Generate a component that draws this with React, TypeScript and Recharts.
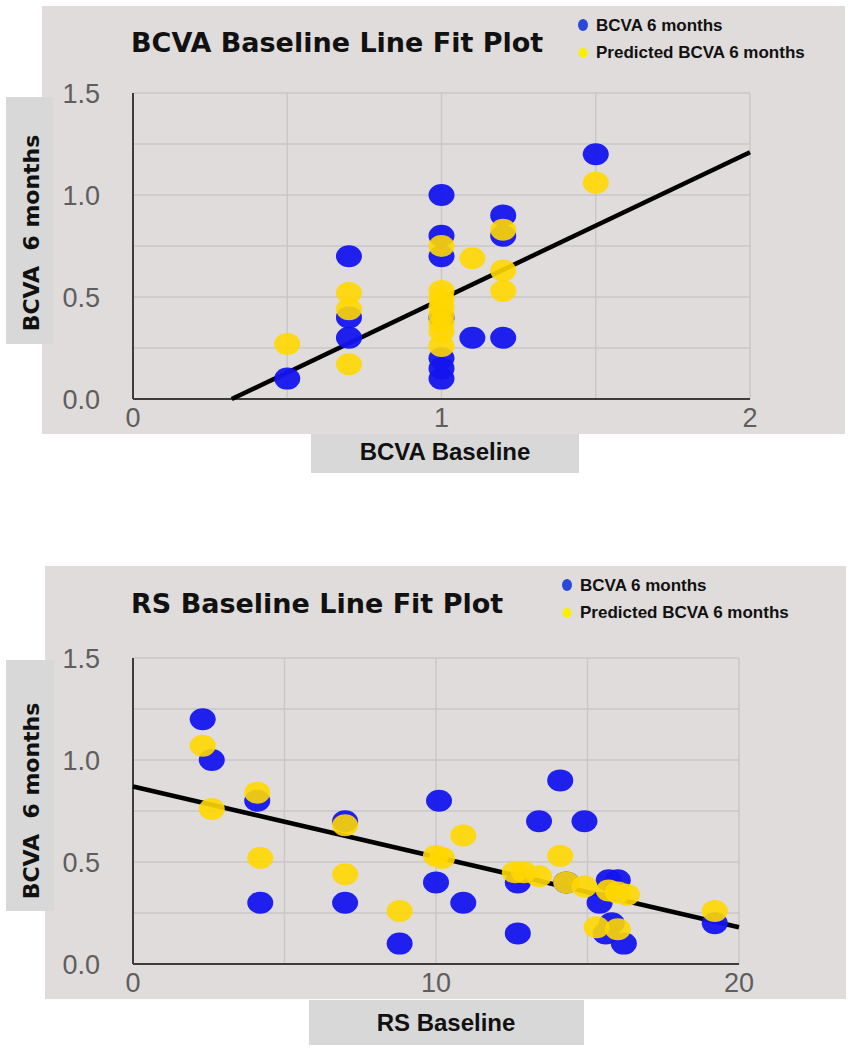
import React from "react";
import { ScatterChart, Scatter, XAxis, YAxis, CartesianGrid } from "recharts";

interface Pt {
  x: number;
  y: number;
}

// ---- data ----
const Y_TICKS = [0, 0.25, 0.5, 0.75, 1, 1.25, 1.5];
const BCVA_X_TICKS = [0, 0.5, 1, 1.5, 2];
const RS_X_TICKS = [0, 5, 10, 15, 20];

const bcvaActual: Pt[] = [
  { x: 0.5, y: 0.1 },
  { x: 0.7, y: 0.7 },
  { x: 0.7, y: 0.4 },
  { x: 0.7, y: 0.3 },
  { x: 1.0, y: 1.0 },
  { x: 1.0, y: 0.8 },
  { x: 1.0, y: 0.7 },
  { x: 1.0, y: 0.4 },
  { x: 1.0, y: 0.2 },
  { x: 1.0, y: 0.15 },
  { x: 1.0, y: 0.1 },
  { x: 1.1, y: 0.3 },
  { x: 1.2, y: 0.9 },
  { x: 1.2, y: 0.8 },
  { x: 1.2, y: 0.3 },
  { x: 1.5, y: 1.2 },
];

const bcvaPredicted: Pt[] = [
  { x: 0.5, y: 0.27 },
  { x: 0.7, y: 0.52 },
  { x: 0.7, y: 0.44 },
  { x: 0.7, y: 0.17 },
  { x: 1.0, y: 0.75 },
  { x: 1.0, y: 0.53 },
  { x: 1.0, y: 0.49 },
  { x: 1.0, y: 0.45 },
  { x: 1.0, y: 0.41 },
  { x: 1.0, y: 0.37 },
  { x: 1.0, y: 0.33 },
  { x: 1.0, y: 0.26 },
  { x: 1.1, y: 0.69 },
  { x: 1.2, y: 0.83 },
  { x: 1.2, y: 0.63 },
  { x: 1.2, y: 0.53 },
  { x: 1.5, y: 1.06 },
];

const bcvaFit: Pt[] = [
  { x: 0.32, y: 0 },
  { x: 2, y: 1.21 },
];

const rsActual: Pt[] = [
  { x: 2.3, y: 1.2 },
  { x: 2.6, y: 1.0 },
  { x: 4.1, y: 0.8 },
  { x: 4.2, y: 0.3 },
  { x: 7.0, y: 0.7 },
  { x: 7.0, y: 0.3 },
  { x: 8.8, y: 0.1 },
  { x: 10.1, y: 0.8 },
  { x: 10.0, y: 0.4 },
  { x: 10.9, y: 0.3 },
  { x: 12.7, y: 0.4 },
  { x: 12.7, y: 0.15 },
  { x: 13.4, y: 0.7 },
  { x: 14.1, y: 0.9 },
  { x: 14.9, y: 0.7 },
  { x: 14.3, y: 0.4 },
  { x: 15.4, y: 0.3 },
  { x: 15.7, y: 0.41 },
  { x: 16.0, y: 0.41 },
  { x: 15.8, y: 0.2 },
  { x: 15.6, y: 0.15 },
  { x: 16.2, y: 0.1 },
  { x: 19.2, y: 0.2 },
];

const rsPredicted: Pt[] = [
  { x: 2.3, y: 1.07 },
  { x: 2.6, y: 0.76 },
  { x: 4.1, y: 0.84 },
  { x: 4.2, y: 0.52 },
  { x: 7.0, y: 0.68 },
  { x: 7.0, y: 0.44 },
  { x: 8.8, y: 0.26 },
  { x: 10.0, y: 0.53 },
  { x: 10.2, y: 0.52 },
  { x: 10.9, y: 0.63 },
  { x: 12.6, y: 0.45 },
  { x: 12.9, y: 0.45 },
  { x: 13.4, y: 0.43 },
  { x: 14.1, y: 0.53 },
  { x: 14.3, y: 0.4 },
  { x: 14.9, y: 0.38 },
  { x: 15.7, y: 0.36 },
  { x: 16.0, y: 0.35 },
  { x: 16.3, y: 0.34 },
  { x: 15.3, y: 0.18 },
  { x: 16.0, y: 0.17 },
  { x: 19.2, y: 0.26 },
];

const rsFit: Pt[] = [
  { x: 0, y: 0.87 },
  { x: 20, y: 0.18 },
];

// ---- styling ----
const PANEL = "#e0dcdb";
const BOX = "#d8d8d8";
const BLUE = "#1414ef";
const YELLOW = "#ffd700";
const GRID = "#c9c7c7";
const AXIS = "#3c3c3c";
const TICK_FONT = "'Liberation Sans', Arial, sans-serif";
const BOLD_FONT = "'Liberation Sans', Arial, sans-serif";
const WIDE_BOLD = "'DejaVu Sans', Verdana, sans-serif";

const yTickLabel = (v: number) => (Number.isInteger(v * 2) ? v.toFixed(1) : "");

const YTick = ({ x, y, payload }: any) => {
  const label = yTickLabel(payload.value);
  if (!label) return <g />;
  return (
    <text x={x} y={y} dy={10} textAnchor="end" fontFamily={TICK_FONT} fontSize={27} fill="#5e5e5e">
      {label}
    </text>
  );
};

const makeXTick = (labelFor: (v: number) => string) => ({ x, y, payload }: any) => {
  const label = labelFor(payload.value);
  if (!label) return <g />;
  return (
    <text x={x} y={y} dy={20} textAnchor="middle" fontFamily={TICK_FONT} fontSize={27} fill="#5e5e5e">
      {label}
    </text>
  );
};

const dot = (fill: string, opacity: number) => (props: any) => (
  <ellipse cx={props.cx} cy={props.cy} rx={13} ry={11} fill={fill} fillOpacity={opacity} />
);

interface Layout {
  height: number;
  margin: { top: number; right: number; bottom: number; left: number };
  panel: [number, number, number, number];
  yBox: [number, number, number, number];
  xBox: [number, number, number, number];
  titleX: number;
  titleY: number;
  legendX: number;
  yLabelAt: [number, number];
  xLabelAt: [number, number];
}

interface PlotProps {
  offset: number;
  layout: Layout;
  title: string;
  xLabel: string;
  xTicks: number[];
  xDomain: [number, number];
  xTickLabel: (v: number) => string;
  actual: Pt[];
  predicted: Pt[];
  fit: Pt[];
}

function LineFitPlot({ offset, layout, title, xLabel, xTicks, xDomain, xTickLabel, actual, predicted, fit }: PlotProps) {
  const L = layout;
  const box = (r: [number, number, number, number], bg: string): React.CSSProperties => ({
    position: "absolute",
    left: r[0],
    top: r[1],
    width: r[2],
    height: r[3],
    background: bg,
  });
  return (
    <div style={{ position: "absolute", left: 0, top: offset, width: 851, height: L.height }}>
      <div style={box(L.panel, PANEL)} />
      <div style={box(L.yBox, BOX)} />
      <div style={box(L.xBox, BOX)} />
      <div style={{ position: "absolute", left: 0, top: 0 }}>
        <ScatterChart width={851} height={L.height} margin={L.margin}>
          <CartesianGrid stroke={GRID} strokeWidth={1.5} />
          <XAxis
            type="number"
            dataKey="x"
            domain={xDomain}
            ticks={xTicks}
            interval={0}
            height={40}
            tickSize={0}
            tickMargin={8}
            tickLine={false}
            axisLine={{ stroke: AXIS, strokeWidth: 2 }}
            tick={makeXTick(xTickLabel)}
          />
          <YAxis
            type="number"
            dataKey="y"
            domain={[0, 1.5]}
            ticks={Y_TICKS}
            interval={0}
            width={60}
            tickSize={0}
            tickMargin={33}
            tickLine={false}
            axisLine={{ stroke: AXIS, strokeWidth: 2 }}
            tick={<YTick />}
          />
          <Scatter
            data={fit}
            line={{ stroke: "#000", strokeWidth: 4.5 }}
            shape={() => <g />}
            isAnimationActive={false}
          />
          <Scatter data={actual} shape={dot(BLUE, 0.95)} isAnimationActive={false} />
          <Scatter data={predicted} shape={dot(YELLOW, 0.9)} isAnimationActive={false} />
        </ScatterChart>
      </div>
      <svg
        width={851}
        height={L.height}
        style={{ position: "absolute", left: 0, top: 0, pointerEvents: "none" }}
      >
        <text x={L.titleX} y={L.titleY} fontFamily={WIDE_BOLD} fontWeight="bold" fontSize={27} fill="#111">
          {title}
        </text>
        <ellipse cx={L.legendX} cy={25} rx={5} ry={6} fill="#2a48d8" />
        <text x={L.legendX + 13} y={31} fontFamily={BOLD_FONT} fontWeight="bold" fontSize={17} fill="#111">
          BCVA 6 months
        </text>
        <ellipse cx={L.legendX} cy={53} rx={4.5} ry={5} fill="#f8f000" />
        <text x={L.legendX + 13} y={58} fontFamily={BOLD_FONT} fontWeight="bold" fontSize={17} fill="#111">
          Predicted BCVA 6 months
        </text>
        <text
          x={L.yLabelAt[0]}
          y={L.yLabelAt[1]}
          transform={`rotate(-90 ${L.yLabelAt[0]} ${L.yLabelAt[1]})`}
          textAnchor="middle"
          dominantBaseline="central"
          fontFamily={WIDE_BOLD}
          fontWeight="bold"
          fontSize={22}
          fill="#111"
          style={{ whiteSpace: "pre" }}
        >
          {"BCVA  6 months"}
        </text>
        <text
          x={L.xLabelAt[0]}
          y={L.xLabelAt[1]}
          textAnchor="middle"
          dominantBaseline="central"
          fontFamily={BOLD_FONT}
          fontWeight="bold"
          fontSize={24}
          fill="#111"
        >
          {xLabel}
        </text>
      </svg>
    </div>
  );
}

const topLayout: Layout = {
  height: 480,
  margin: { top: 93, right: 101, bottom: 41, left: 73 },
  panel: [42, 6, 803, 428],
  yBox: [6, 97, 47, 247],
  xBox: [311, 434, 268, 39],
  titleX: 131,
  titleY: 52,
  legendX: 583,
  yLabelAt: [31, 233],
  xLabelAt: [445, 451],
};

const bottomLayout: Layout = {
  height: 492,
  margin: { top: 98, right: 112, bottom: 48, left: 73 },
  panel: [45, 6, 801, 433],
  yBox: [6, 100, 48, 251],
  xBox: [309, 440, 275, 45],
  titleX: 131,
  titleY: 53,
  legendX: 567,
  yLabelAt: [31, 241],
  xLabelAt: [446, 462],
};

export default function App() {
  return (
    <div style={{ position: "relative", width: 851, height: 1052, background: "#fff", overflow: "hidden" }}>
      <style>{"body{margin:0}"}</style>
      <LineFitPlot
        offset={0}
        layout={topLayout}
        title="BCVA Baseline Line Fit Plot"
        xLabel="BCVA Baseline"
        xTicks={BCVA_X_TICKS}
        xDomain={[0, 2]}
        xTickLabel={(v) => (Number.isInteger(v) ? String(v) : "")}
        actual={bcvaActual}
        predicted={bcvaPredicted}
        fit={bcvaFit}
      />
      <LineFitPlot
        offset={560}
        layout={bottomLayout}
        title="RS Baseline Line Fit Plot"
        xLabel="RS Baseline"
        xTicks={RS_X_TICKS}
        xDomain={[0, 20]}
        xTickLabel={(v) => (v % 10 === 0 ? String(v) : "")}
        actual={rsActual}
        predicted={rsPredicted}
        fit={rsFit}
      />
    </div>
  );
}
